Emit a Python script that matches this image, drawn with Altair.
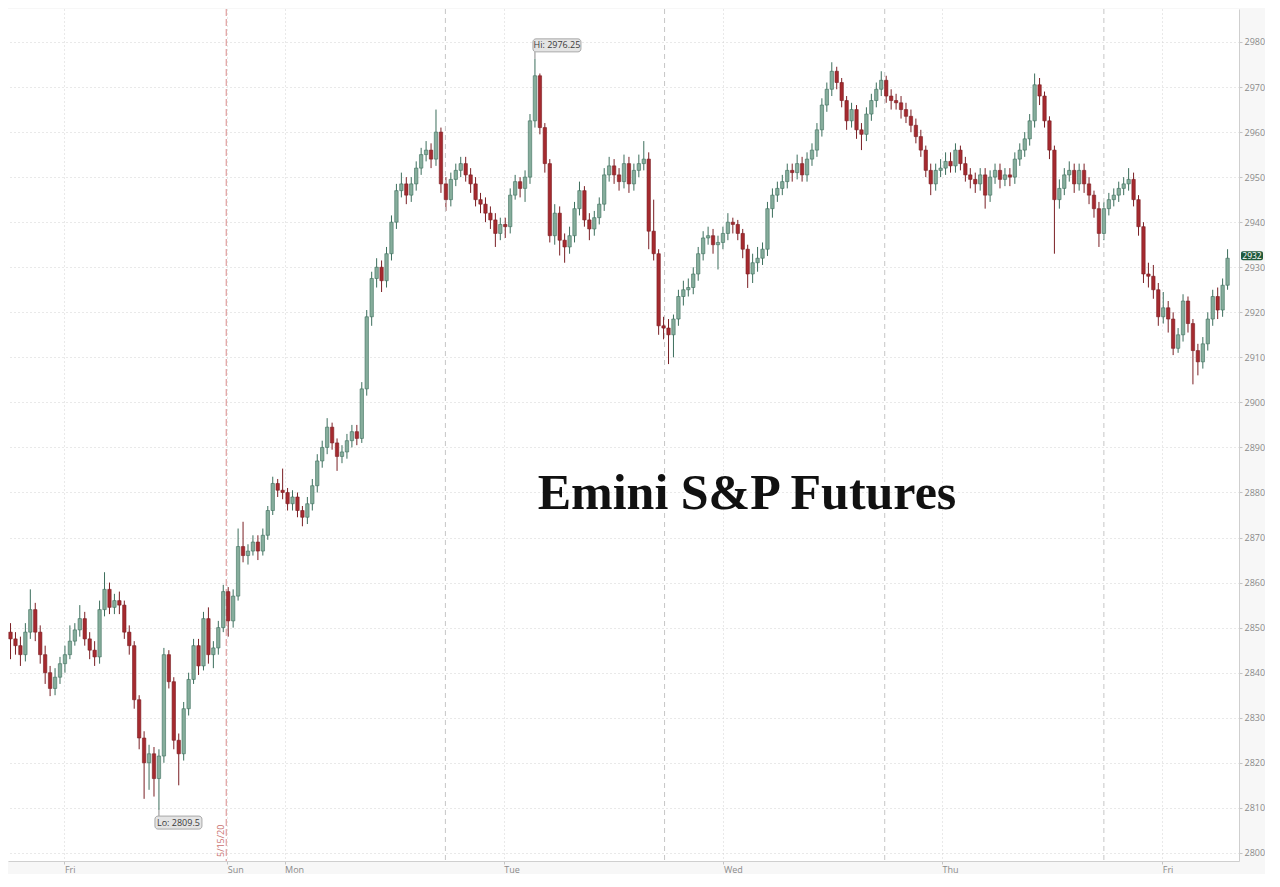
import altair as alt
import pandas as pd

# ---- data (30-min candles) ----
opens = [
    2849, 2847.5, 2846, 2844, 2849, 2854, 2849, 2844, 2840, 2836.5,
    2839, 2842, 2844, 2847, 2849.5, 2852, 2847.5, 2845, 2843.5, 2854,
    2858.5, 2854.5, 2856, 2855, 2849, 2846, 2834, 2825.5, 2820, 2822,
    2816.5, 2821.5, 2844, 2838, 2825, 2822, 2832, 2838.5, 2846, 2841.5,
    2852, 2844, 2845.5, 2850, 2858, 2851.5, 2857, 2868, 2866, 2867,
    2869, 2867, 2870.5, 2876, 2882, 2880.5, 2880, 2877.5, 2879, 2876,
    2874.5, 2877.5, 2881.5, 2887, 2890, 2894.5, 2891, 2888, 2889, 2891.5,
    2893.5, 2892, 2903, 2919, 2927.5, 2930, 2927, 2933, 2940, 2947,
    2948.5, 2946, 2948.5, 2952, 2955, 2956, 2954, 2960, 2948.5, 2945,
    2949.5, 2951.5, 2953, 2950.5, 2948.5, 2945, 2944, 2942, 2940.5, 2937.5,
    2939.5, 2939, 2946, 2949, 2947.5, 2950, 2962.5, 2972.5, 2961, 2953,
    2937, 2942, 2936, 2934.5, 2937, 2943, 2947, 2940.5, 2938.5, 2941,
    2944, 2950.5, 2952.5, 2950.5, 2949, 2953, 2948.5, 2951.5, 2953, 2954,
    2938, 2933, 2917, 2916.5, 2915, 2918.5, 2923.5, 2925, 2925.5, 2928.5,
    2933, 2936.5, 2937, 2935, 2935.5, 2937.5, 2940, 2939.5, 2937.5, 2934,
    2928.5, 2931, 2932, 2934, 2943, 2946, 2947.5, 2949, 2951.5, 2951,
    2953, 2950.5, 2954, 2956, 2960.5, 2966, 2969.5, 2973.5, 2971, 2967,
    2962.5, 2965, 2960.5, 2959.5, 2964, 2967, 2969.5, 2971.5, 2968, 2967,
    2966.5, 2965, 2963.5, 2961.5, 2959, 2956, 2951.5, 2948.5, 2951.5, 2952,
    2953.5, 2952.5, 2956, 2953, 2950.5, 2949.5, 2948.5, 2950.5, 2946, 2950,
    2951.5, 2949.5, 2950.5, 2950, 2954, 2956, 2958.5, 2962.5, 2970.5, 2968,
    2962.5, 2956, 2945, 2947.5, 2950.5, 2951.5, 2948.5, 2951.5, 2948.5, 2946,
    2943, 2937.5, 2943, 2945, 2946, 2947.5, 2948.5, 2949.5, 2945, 2939,
    2928.5, 2928, 2925, 2919, 2921, 2918.5, 2912, 2915, 2922.5, 2917.5,
    2911.5, 2909, 2913, 2918.5, 2923.5, 2920.5, 2926,
]
highs = [
    2851, 2849, 2848, 2851, 2858.5, 2855.5, 2850.5, 2846, 2841.5, 2841,
    2843.5, 2846, 2850.5, 2851, 2855, 2853.5, 2849, 2847, 2856, 2862.3,
    2860, 2857.5, 2858, 2856, 2850.5, 2847, 2835, 2827, 2824, 2823.5,
    2823, 2845.5, 2845, 2839, 2826.5, 2833.5, 2840, 2847.5, 2847.5, 2853.5,
    2854.5, 2847, 2851.5, 2859.5, 2859, 2858.5, 2872, 2873.5, 2868.5, 2870.5,
    2870.5, 2872, 2877, 2883.5, 2883, 2885.3, 2881, 2880.5, 2880, 2877,
    2879, 2883, 2888.5, 2891.5, 2896.5, 2895.5, 2892, 2890.5, 2893, 2895,
    2895, 2904.5, 2920.5, 2929, 2932, 2931.5, 2934.5, 2941.5, 2948.5, 2951,
    2950, 2950, 2953.5, 2956.5, 2958, 2957.5, 2965, 2961, 2950, 2951,
    2953, 2954.5, 2954.5, 2952, 2950, 2946.5, 2945.5, 2943.5, 2942, 2941,
    2941, 2947.5, 2950.5, 2950, 2951.5, 2964, 2976.25, 2973, 2962, 2954,
    2944, 2943.5, 2937.5, 2939, 2944.5, 2949, 2948, 2942, 2942.5, 2945.5,
    2952, 2954.5, 2954, 2952, 2955, 2954.5, 2953, 2955, 2958, 2955.5,
    2945, 2934, 2919, 2918.5, 2919.5, 2925, 2927, 2927.5, 2930, 2934.5,
    2938, 2939, 2938.5, 2937, 2939, 2942, 2941, 2940.5, 2938.5, 2935,
    2933, 2934.5, 2935.5, 2944.5, 2947.5, 2949, 2950.5, 2953, 2953, 2955,
    2954.5, 2955.5, 2957.5, 2962, 2967.5, 2971, 2975.5, 2974.5, 2972, 2968,
    2966.5, 2966, 2962, 2965.5, 2968.5, 2971, 2973.5, 2972.5, 2969.5, 2968.5,
    2968, 2966.5, 2965, 2963, 2960.5, 2957, 2953, 2953, 2954, 2955.5,
    2955.5, 2957.5, 2957, 2954.5, 2952, 2951, 2952, 2952, 2951.5, 2953,
    2953, 2952, 2952, 2955.5, 2957.5, 2960, 2964, 2973, 2972, 2969,
    2963.5, 2957, 2949.5, 2952, 2953.5, 2953, 2953, 2953, 2950, 2947,
    2944.5, 2944.5, 2946.5, 2947.5, 2949, 2950, 2952, 2951, 2946, 2940,
    2931, 2930.5, 2926.5, 2924.5, 2922.5, 2920, 2916.5, 2924, 2923.5, 2918.5,
    2913, 2914.5, 2920, 2925, 2925.5, 2927.5, 2934,
]
lows = [
    2843, 2844, 2841.5, 2842.5, 2847.5, 2847, 2842, 2837.5, 2834.8, 2835,
    2837.5, 2840, 2843, 2846, 2848, 2846, 2843, 2841.5, 2842, 2852.5,
    2853, 2853, 2853, 2847.5, 2844, 2832, 2823, 2812, 2814, 2812.5,
    2809.5, 2820, 2836.5, 2823, 2815, 2820.5, 2830.5, 2837.5, 2839.5, 2840.5,
    2842, 2841, 2844, 2849, 2848, 2850, 2856, 2864.5, 2864, 2866,
    2865, 2866, 2869.5, 2875, 2879, 2878.5, 2876, 2876, 2874.5, 2872.5,
    2873, 2876, 2880, 2885.5, 2888.5, 2889.5, 2884.8, 2886.5, 2887.5, 2890,
    2890.5, 2891, 2901.5, 2917, 2925.5, 2924.5, 2925.5, 2931.5, 2938.5, 2945.5,
    2944, 2944.5, 2947, 2950.5, 2953.5, 2952, 2952.5, 2946.5, 2942.5, 2943.5,
    2948, 2950, 2949, 2946.5, 2943.5, 2942, 2940, 2938.5, 2934.5, 2936,
    2936.5, 2937.5, 2945, 2945.5, 2944.5, 2948.5, 2961, 2959.5, 2951, 2935.5,
    2935, 2932.6, 2931, 2933, 2935.5, 2941.5, 2939, 2936, 2937, 2939.5,
    2942.5, 2949, 2948.5, 2947, 2947.5, 2946.5, 2947, 2950, 2951.5, 2934,
    2931.5, 2915, 2914, 2908.5, 2910, 2917, 2921.5, 2923.5, 2924, 2927,
    2931.5, 2935, 2933, 2929.5, 2934, 2936, 2937.5, 2936, 2932, 2925.4,
    2926.5, 2929, 2930.5, 2932.5, 2941, 2944.5, 2946, 2947.5, 2949, 2949.5,
    2949, 2949, 2952.5, 2954.5, 2959, 2964.5, 2968, 2969.5, 2965.5, 2960.5,
    2961, 2958.5, 2956, 2958, 2962.5, 2965.5, 2968, 2966.5, 2965, 2965,
    2963, 2962, 2960, 2957.5, 2954.5, 2950, 2946, 2947, 2950, 2950.5,
    2951, 2951, 2951.5, 2949, 2947.5, 2946.5, 2947, 2943, 2944.5, 2948.5,
    2947.5, 2948, 2948, 2948.5, 2952.5, 2954.5, 2957, 2961, 2966, 2961,
    2954, 2933, 2943, 2946, 2949, 2946.5, 2947, 2946.5, 2944, 2941,
    2934.5, 2936, 2941.5, 2943.5, 2944.5, 2946, 2947, 2943.5, 2937, 2926.5,
    2925.5, 2923, 2917, 2917.5, 2915.5, 2910.5, 2911, 2913.5, 2915.5, 2904,
    2906, 2907.5, 2911.5, 2917, 2918.5, 2919, 2925,
]
closes = [
    2847.5, 2846, 2844, 2849, 2854, 2849, 2844, 2840, 2836.5, 2839,
    2842, 2844, 2847, 2849.5, 2852, 2847.5, 2845, 2843.5, 2854, 2858.5,
    2854.5, 2856, 2855, 2849, 2846, 2834, 2825.5, 2820, 2822, 2816.5,
    2821.5, 2844, 2838, 2825, 2822, 2832, 2838.5, 2846, 2841.5, 2852,
    2844, 2845.5, 2850, 2858, 2851.5, 2857, 2868, 2866, 2867, 2869,
    2867, 2870.5, 2876, 2882, 2880.5, 2880, 2877.5, 2879, 2876, 2874.5,
    2877.5, 2881.5, 2887, 2890, 2894.5, 2891, 2888, 2889, 2891.5, 2893.5,
    2892, 2903, 2919, 2927.5, 2930, 2927, 2933, 2940, 2947, 2948.5,
    2946, 2948.5, 2952, 2955, 2956, 2954, 2960, 2948.5, 2945, 2949.5,
    2951.5, 2953, 2950.5, 2948.5, 2945, 2944, 2942, 2940.5, 2937.5, 2939.5,
    2939, 2946, 2949, 2947.5, 2950, 2962.5, 2972.5, 2961, 2953, 2937,
    2942, 2936, 2934.5, 2937, 2943, 2947, 2940.5, 2938.5, 2941, 2944,
    2950.5, 2952.5, 2950.5, 2949, 2953, 2948.5, 2951.5, 2953, 2954, 2938,
    2933, 2917, 2916.5, 2915, 2918.5, 2923.5, 2925, 2925.5, 2928.5, 2933,
    2936.5, 2937, 2935, 2935.5, 2937.5, 2940, 2939.5, 2937.5, 2934, 2928.5,
    2931, 2932, 2934, 2943, 2946, 2947.5, 2949, 2951.5, 2951, 2953,
    2950.5, 2954, 2956, 2960.5, 2966, 2969.5, 2973.5, 2971, 2967, 2962.5,
    2965, 2960.5, 2959.5, 2964, 2967, 2969.5, 2971.5, 2968, 2967, 2966.5,
    2965, 2963.5, 2961.5, 2959, 2956, 2951.5, 2948.5, 2951.5, 2952, 2953.5,
    2952.5, 2956, 2953, 2950.5, 2949.5, 2948.5, 2950.5, 2946, 2950, 2951.5,
    2949.5, 2950.5, 2950, 2954, 2956, 2958.5, 2962.5, 2970.5, 2968, 2962.5,
    2956, 2945, 2947.5, 2950.5, 2951.5, 2948.5, 2951.5, 2948.5, 2946, 2943,
    2937.5, 2943, 2945, 2946, 2947.5, 2948.5, 2949.5, 2945, 2939, 2928.5,
    2928, 2925, 2919, 2921, 2918.5, 2912, 2915, 2922.5, 2917.5, 2911.5,
    2909, 2913, 2918.5, 2923.5, 2920.5, 2926, 2932,
]

day_ticks = [10.9, 43.8, 55.4, 99.7, 144.1, 188.3, 232.8]
day_labels = ["Fri", "Sun", "Mon", "Tue", "Wed", "Thu", "Fri"]
session_breaks = [87.9, 132.2, 176.7, 221.0]
week_break = [43.6]
week_break_label = ["5/15/20"]
y_ticks = list(range(2800, 2990, 10))
title_text = "Emini S&P Futures"

# ---- tables ----
df = pd.DataFrame({"i": list(range(len(closes))), "open": opens, "high": highs,
                   "low": lows, "close": closes})
df["dir"] = ["up" if c >= o else "down" for o, c in zip(opens, closes)]

hi_i = int(df["high"].idxmax())
lo_i = int(df["low"].idxmin())
hi_df = pd.DataFrame({"i": [hi_i], "v": [highs[hi_i]], "t": ["Hi: %s" % format(highs[hi_i], "g")]})
lo_df = pd.DataFrame({"i": [lo_i], "v": [lows[lo_i]], "t": ["Lo: %s" % format(lows[lo_i], "g")]})
last_df = pd.DataFrame({"v": [closes[-1]], "t": [str(int(round(closes[-1])))]})
sess_df = pd.DataFrame({"i": session_breaks})
week_df = pd.DataFrame({"i": week_break, "t": week_break_label})
title_df = pd.DataFrame({"t": [title_text]})

W, H = 1231, 852
FONT = "Open Sans"
xs = alt.Scale(domain=[0.5, 247.3], nice=False, zero=False)
ys = alt.Scale(domain=[2798.2, 2987.32], nice=False, zero=False)
fill_s = alt.Scale(domain=["up", "down"], range=["#86ad9c", "#a52a2f"])
stroke_s = alt.Scale(domain=["up", "down"], range=["#3c6e5c", "#7a1f24"])

label_expr = "[%s][indexof([%s], datum.value)]" % (
    ",".join("'%s'" % s for s in day_labels), ",".join(str(v) for v in day_ticks))

x_axis = alt.Axis(values=day_ticks, labelExpr=label_expr, title=None, grid=True,
                  gridDash=[1, 3], gridColor="#d2d2d2", labelAlign="left",
                  labelFontSize=9, labelColor="#8a8a8a", labelFont=FONT,
                  tickSize=3, tickColor="#c4c4c4", domainColor="#cfcfcf",
                  labelPadding=1, labelFlush=False)
y_axis = alt.Axis(orient="right", values=y_ticks, format="d", title=None, grid=True,
                  gridDash=[1, 3], gridColor="#d2d2d2", labelFontSize=9,
                  labelColor="#8a8a8a", labelFont=FONT, tickSize=3,
                  tickColor="#c4c4c4", domainColor="#cfcfcf", labelPadding=2)

def X(field="i:Q"):
    return alt.X(field, scale=xs, axis=x_axis, title=None)

def Y(field):
    return alt.Y(field, scale=ys, axis=y_axis, title=None)

wicks = alt.Chart(df).mark_rule(strokeWidth=1, clip=True).encode(
    x=X(), y=Y("low:Q"), y2="high:Q",
    stroke=alt.Stroke("dir:N", scale=stroke_s, legend=None),
)
bodies = alt.Chart(df).mark_bar(size=3.4, strokeWidth=0.6, clip=True).encode(
    x=X(), y=Y("open:Q"), y2="close:Q",
    fill=alt.Fill("dir:N", scale=fill_s, legend=None),
    stroke=alt.Stroke("dir:N", scale=stroke_s, legend=None),
)

sess = alt.Chart(sess_df).mark_rule(strokeDash=[5, 4], color="#c6c6c6", strokeWidth=1).encode(x=X())
week = alt.Chart(week_df).mark_rule(strokeDash=[7, 3], color="#d98a8a", strokeWidth=1).encode(x=X())
week_txt = alt.Chart(week_df).mark_text(angle=270, align="left", baseline="bottom",
                                        fontSize=9, font=FONT, color="#c8706e").encode(
    x=X(), y=alt.value(H - 4), text="t:N")

# Hi annotation
hi_lead = alt.Chart(hi_df).mark_rule(color="#888", strokeWidth=1, y2Offset=-7).encode(
    x=X(), y=Y("v:Q"), y2="v:Q")
hi_box = alt.Chart(hi_df).mark_rect(xOffset=-2, x2Offset=46, yOffset=-20, y2Offset=-7,
                                    cornerRadius=3, fill="#e4e4e4", stroke="#a8a8a8",
                                    strokeWidth=1).encode(x=X(), x2="i:Q", y=Y("v:Q"), y2="v:Q")
hi_txt = alt.Chart(hi_df).mark_text(dx=22, dy=-13.5, fontSize=9, font=FONT,
                                    color="#3a3a3a").encode(x=X(), y=Y("v:Q"), text="t:N")
# Lo annotation
lo_lead = alt.Chart(lo_df).mark_rule(color="#888", strokeWidth=1, y2Offset=6).encode(
    x=X(), y=Y("v:Q"), y2="v:Q")
lo_box = alt.Chart(lo_df).mark_rect(xOffset=-4, x2Offset=43, yOffset=6, y2Offset=19,
                                    cornerRadius=3, fill="#e4e4e4", stroke="#a8a8a8",
                                    strokeWidth=1).encode(x=X(), x2="i:Q", y=Y("v:Q"), y2="v:Q")
lo_txt = alt.Chart(lo_df).mark_text(dx=19.5, dy=12.5, fontSize=9, font=FONT,
                                    color="#3a3a3a").encode(x=X(), y=Y("v:Q"), text="t:N")
# last price tag
last_box = alt.Chart(last_df).mark_rect(yOffset=-7, y2Offset=2, cornerRadius=2,
                                        fill="#1f5a3c").encode(
    x=alt.value(W + 2), x2=alt.value(W + 24), y=Y("v:Q"), y2="v:Q")
last_txt = alt.Chart(last_df).mark_text(dy=-2.5, fontSize=8.5, font=FONT, color="#ffffff").encode(
    x=alt.value(W + 13), y=Y("v:Q"), text="t:N")

title = alt.Chart(title_df).mark_text(font="Liberation Serif", fontWeight="bold",
                                      fontSize=50, color="#111111", align="center",
                                      baseline="alphabetic").encode(
    x=alt.value(739), y=alt.value(500), text="t:N")

chart = alt.layer(
    wicks, sess, week, week_txt, bodies, title,
    hi_lead, hi_box, hi_txt, lo_lead, lo_box, lo_txt, last_box, last_txt,
).properties(width=W, height=H, padding=0, background="#f7f7f7").configure_view(
    fill="#ffffff", strokeWidth=0)

chart.save("out.html", embed_options={"renderer": "svg", "actions": False})
